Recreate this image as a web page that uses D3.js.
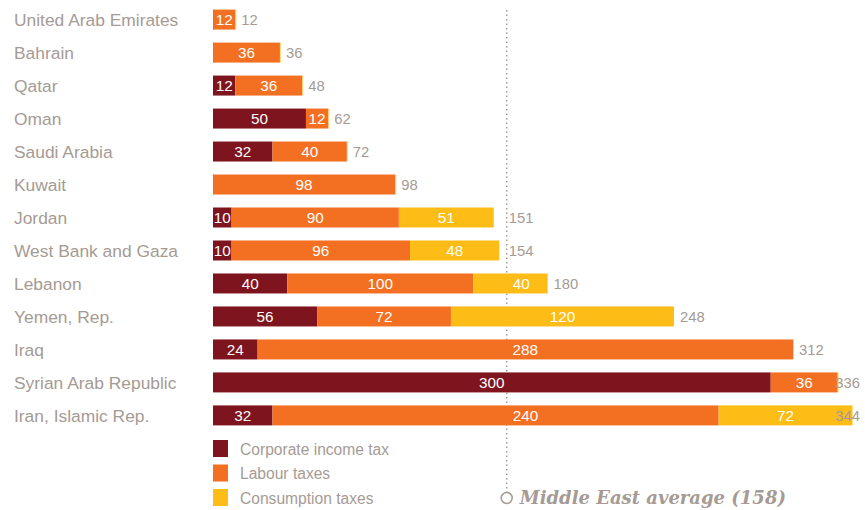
<!DOCTYPE html>
<meta charset="utf-8">
<style>
body { margin: 0; background: #fff; }
svg { display: block; font-family: "Liberation Sans", Arial, sans-serif; }
.cat { fill: #a59b94; font-size: 17.4px; }
.seg { fill: #fff; font-size: 15.3px; }
.total { fill: #a59b94; font-size: 14.8px; }
.legend text { fill: #a59b94; font-size: 15.6px; }
.avg { fill: #a59b94; font-family: "DejaVu Serif", serif; font-weight: bold; font-style: italic; font-size: 18px; }
</style>
<svg width="865" height="510"></svg>
<script src="https://cdnjs.cloudflare.com/ajax/libs/d3/7.8.5/d3.min.js"></script>
<script>

var countries = ["United Arab Emirates", "Bahrain", "Qatar", "Oman", "Saudi Arabia", "Kuwait",
  "Jordan", "West Bank and Gaza", "Lebanon", "Yemen, Rep.", "Iraq", "Syrian Arab Republic", "Iran, Islamic Rep."];
var corporate   = [0, 0, 12, 50, 32, 0, 10, 10, 40, 56, 24, 300, 32];
var labour      = [12, 36, 36, 12, 40, 98, 90, 96, 100, 72, 288, 36, 240];
var consumption = [0, 0, 0, 0, 0, 0, 51, 48, 40, 120, 0, 0, 72];
var totals      = [12, 36, 48, 62, 72, 98, 151, 154, 180, 248, 312, 336, 344];
var seriesNames = ["Corporate income tax", "Labour taxes", "Consumption taxes"];
var colors = ["#7e141e", "#f37022", "#fdbc16"];
var average = 158;

var svg = d3.select("svg");

var x = d3.scaleLinear().domain([0, 312]).range([213, 793]);
var y = d3.scaleBand().domain(countries).range([3, 432]).paddingInner(0.394).paddingOuter(0.2);

var avgX = x(average);

var rows = countries.map(function(c, i) {
  return { name: c, values: [corporate[i], labour[i], consumption[i]], total: totals[i] };
});

// dotted average line
svg.append("line")
  .attr("x1", avgX).attr("x2", avgX)
  .attr("y1", 10).attr("y2", 492)
  .attr("stroke", "#a59b94")
  .attr("stroke-width", 1.5)
  .attr("stroke-dasharray", "1.5,3");

var row = svg.selectAll(".row")
  .data(rows)
  .enter().append("g")
  .attr("class", "row")
  .attr("transform", function(d) { return "translate(0," + y(d.name) + ")"; });

row.append("text")
  .attr("class", "cat")
  .attr("x", 14)
  .attr("y", y.bandwidth() / 2)
  .attr("dy", "0.36em")
  .text(function(d) { return d.name; });

row.each(function(d) {
  var g = d3.select(this);
  var start = 0;
  d.values.forEach(function(v, k) {
    var x0 = x(start), x1 = x(start + v);
    g.append("rect")
      .attr("x", x0)
      .attr("y", 0)
      .attr("width", v > 0 ? x1 - x0 : 1)
      .attr("height", y.bandwidth())
      .attr("fill", colors[k])
      .attr("opacity", v > 0 ? 1 : 0.6);
    if (v > 0) {
      var t = g.append("text")
        .attr("class", "seg")
        .attr("x", (x0 + x1) / 2)
        .attr("y", y.bandwidth() / 2)
        .attr("dy", "0.36em")
        .attr("text-anchor", "middle")
        .text(v);
      var w = t.node().getComputedTextLength();
      var cx = (x0 + x1) / 2;
      if (cx - w / 2 < avgX && cx + w / 2 > avgX && w < (x1 - avgX)) {
        t.attr("text-anchor", "start").attr("x", avgX + 6);
      }
    }
    start += v;
  });

  var end = x(d.total);
  var tt = g.append("text")
    .attr("class", "total")
    .attr("y", y.bandwidth() / 2)
    .attr("dy", "0.36em")
    .text(d.total);
  var tw = tt.node().getComputedTextLength();
  var lx = end + 6;
  if (end < avgX && lx + tw > avgX - 2) lx = avgX + 2;
  if (lx + tw > 860) lx = 860 - tw;
  tt.attr("x", lx);
});

// legend
var legend = svg.append("g").attr("class", "legend")
  .selectAll("g")
  .data(seriesNames)
  .enter().append("g")
  .attr("transform", function(d, i) { return "translate(213," + (440 + i * 24.5) + ")"; });

legend.append("rect")
  .attr("width", 15)
  .attr("height", 17)
  .attr("fill", function(d, i) { return colors[i]; });

legend.append("text")
  .attr("x", 27)
  .attr("y", 9)
  .attr("dy", "0.36em")
  .text(function(d) { return d; });

svg.append("circle")
  .attr("cx", avgX)
  .attr("cy", 498)
  .attr("r", 5.5)
  .attr("fill", "#fff")
  .attr("stroke", "#a59b94")
  .attr("stroke-width", 1.5);

svg.append("text")
  .attr("class", "avg")
  .attr("x", avgX + 13)
  .attr("y", 498)
  .attr("dy", "0.36em")
  .text("Middle East average (" + average + ")");

</script>
